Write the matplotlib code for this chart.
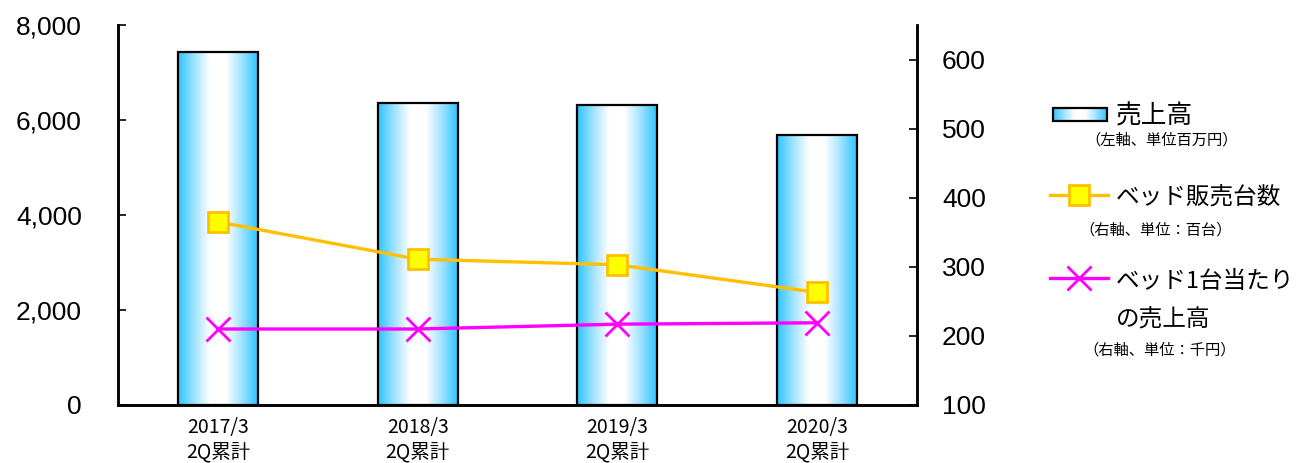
import numpy as np
import matplotlib
matplotlib.use('Agg')
import matplotlib.pyplot as plt
from matplotlib.colors import LinearSegmentedColormap
from matplotlib.patches import Rectangle
from matplotlib.ticker import FuncFormatter

# データ
periods = ['2017/3\n2Q累計', '2018/3\n2Q累計', '2019/3\n2Q累計', '2020/3\n2Q累計']
sales = [7430, 6360, 6310, 5680]          # 売上高（左軸、百万円）
beds = [365, 311, 303, 263]               # ベッド販売台数（右軸、百台）
per_bed = [210, 210, 217, 219]            # ベッド1台当たりの売上高（右軸、千円）

plt.rcParams['font.family'] = ['Liberation Sans', 'DejaVu Sans']
jp = ['Noto Sans CJK JP', 'DejaVu Sans']

cmap = LinearSegmentedColormap.from_list(
    'bar', ['#2EC4FF', '#9FE2FF', '#FFFFFF', '#FFFFFF', '#9FE2FF', '#2EC4FF'])
grad = np.linspace(0, 1, 256).reshape(1, -1)

fig = plt.figure(figsize=(13, 4.63), dpi=100)
ax = fig.add_axes([118 / 1300, 58 / 463, 799 / 1300, 380 / 463])
ax2 = ax.twinx()

x = np.arange(len(periods))
bars = ax.bar(x, sales, width=0.4, facecolor='none', edgecolor='black',
              linewidth=1.6, zorder=3)
for b in bars:
    im = ax.imshow(grad, cmap=cmap, aspect='auto', zorder=2,
                   extent=[b.get_x(), b.get_x() + b.get_width(), 0, b.get_height()])
    im.set_clip_path(b)

ax.set_xlim(-0.5, 3.5)
ax.set_ylim(0, 8000)
ax.set_yticks([0, 2000, 4000, 6000, 8000])
ax.yaxis.set_major_formatter(FuncFormatter(lambda v, p: f'{int(v):,}'))
ax.set_xticks(x)
ax.set_xticklabels(periods, family=jp, fontsize=14, linespacing=1.2)
ax.tick_params(axis='x', length=0, pad=9)
ax.tick_params(axis='y', direction='in', length=6, width=1.2, labelsize=19, pad=26)

ax2.plot(x, beds, color='#FFC000', linewidth=2.4, marker='s', markersize=15,
         markerfacecolor='#FFFF00', markeredgecolor='#FFC000', markeredgewidth=2, zorder=5)
ax2.plot(x, per_bed, color='#FF00FF', linewidth=2.4, marker='x', markersize=17,
         markeredgewidth=2, zorder=5)
ax2.set_ylim(100, 650)
ax2.set_yticks([100, 200, 300, 400, 500, 600])
ax2.tick_params(axis='y', direction='in', length=6, width=1.2, labelsize=19, pad=18)

for a in (ax, ax2):
    a.spines['top'].set_visible(False)
    for s in ('left', 'right', 'bottom'):
        a.spines[s].set_linewidth(1.8)

# 凡例（ピクセル座標）
lg = fig.add_axes([0, 0, 1, 1], zorder=10)
patch = Rectangle((1053, 108), 54, 13, facecolor='none', edgecolor='black', linewidth=1.6)
lg.add_patch(patch)
im = lg.imshow(grad, cmap=cmap, aspect='auto', extent=[1053, 1107, 121, 108])
im.set_clip_path(patch)
lg.set_xlim(0, 1300)
lg.set_ylim(463, 0)
lg.axis('off')
lg.plot([1050, 1108], [195, 195], color='#FFC000', linewidth=2.4)
lg.plot([1079], [195], marker='s', markersize=15, markerfacecolor='#FFFF00',
        markeredgecolor='#FFC000', markeredgewidth=2)
lg.plot([1050, 1108], [278, 278], color='#FF00FF', linewidth=2.4)
lg.plot([1079], [278], marker='x', markersize=17, color='#FF00FF', markeredgewidth=2)

lg.text(1116, 116, '売上高', family=jp, fontsize=18.5, va='center', ha='left')
lg.text(1162, 140, '（左軸、単位百万円）', family=jp, fontsize=11, va='center', ha='center')
lg.text(1116, 198, 'ベッド販売台数', family=jp, fontsize=17, va='center', ha='left')
lg.text(1156, 230, '（右軸、単位：百台）', family=jp, fontsize=11, va='center', ha='center')
lg.text(1116, 281, 'ベッド1台当たり', family=jp, fontsize=17, va='center', ha='left')
lg.text(1116, 320, 'の売上高', family=jp, fontsize=17, va='center', ha='left')
lg.text(1160, 350, '（右軸、単位：千円）', family=jp, fontsize=11, va='center', ha='center')

fig.savefig('out.png', dpi=100)
